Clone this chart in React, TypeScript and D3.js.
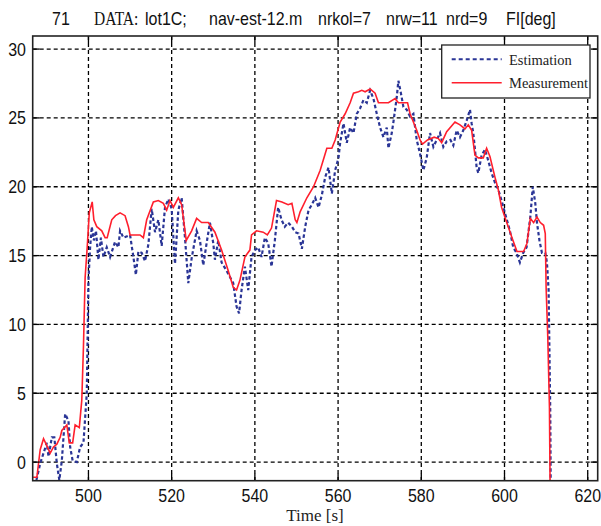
import React from "react";
import * as d3 from "d3";

// Measurement (red) - time [s] and angle [deg]
const measTime = [
  486.7, 487.6, 488.4, 489.2, 490.0, 490.8, 491.6, 492.4, 493.2, 493.6, 494.8, 495.4, 496.2, 496.8, 497.8, 498.4,
  498.8, 499.2, 499.7, 500.2, 500.9, 501.3, 502.0, 503.2, 504.0, 504.5, 505.6, 506.5, 507.6, 508.8, 509.6, 510.0,
  511.6, 512.4, 513.2, 514.0, 515.6, 516.8, 518.0, 518.8, 519.6, 520.4, 521.6, 522.4, 523.5, 524.8, 526.0, 527.2,
  528.8, 530.4, 532.0, 533.6, 534.8, 535.6, 536.4, 537.6, 538.8, 539.2, 540.4, 542.0, 543.0, 544.0, 545.2, 546.5,
  548.0, 548.9, 549.7, 550.1, 550.9, 552.5, 554.1, 555.7, 556.9, 557.3, 558.5, 559.3, 560.5, 561.7, 562.9, 563.7,
  564.9, 565.7, 566.5, 567.7, 568.9, 569.7, 570.9, 572.1, 573.7, 574.5, 576.7, 577.3, 578.1, 578.9, 579.7, 580.3,
  581.5, 583.1, 584.1, 584.9, 586.1, 588.1, 589.3, 590.5, 591.3, 592.1, 592.9, 593.7, 594.9, 595.7, 596.5, 597.7,
  598.5, 599.3, 600.2, 601.0, 601.8, 603.0, 604.6, 605.4, 606.2, 607.0, 607.8, 608.6, 609.4, 609.8, 610.0, 610.4,
  610.8, 610.95,
];
const measValue = [
  -1.1, -1.1, 0.9, 1.7, 1.2, 0.65, 1.1, 1.3, 1.8, 2.3, 2.7, 1.4, 1.4, 2.7, 2.5, 4.5,
  8.4, 13.4, 15.6, 18.1, 18.9, 17.6, 17.1, 16.8, 16.3, 16.3, 17.6, 17.9, 18.1, 17.9, 17.1, 16.5,
  16.5, 16.5, 16.3, 17.6, 18.9, 19.0, 18.8, 18.3, 19.0, 18.5, 19.2, 18.7, 16.1, 16.8, 17.7, 17.4,
  17.4, 16.7, 15.4, 13.9, 12.7, 12.5, 13.2, 14.9, 15.4, 16.5, 16.8, 16.7, 16.5, 17.0, 19.0, 18.9,
  18.7, 18.8, 17.6, 17.4, 18.2, 19.2, 20.0, 21.2, 22.4, 22.8, 22.8, 23.4, 24.7, 25.3, 26.1, 26.8,
  26.9, 27.0, 26.9, 27.1, 26.8, 26.1, 26.1, 26.1, 26.4, 26.1, 26.1, 25.3, 24.7, 24.1, 23.4, 23.1,
  23.4, 23.6, 23.5, 23.2, 24.0, 24.7, 24.5, 24.2, 24.5, 24.1, 22.3, 22.1, 22.1, 22.8, 22.2, 20.7,
  19.8, 18.5, 17.7, 17.0, 16.3, 15.3, 15.3, 15.9, 17.7, 17.4, 17.8, 17.4, 17.2, 16.6, 12.7, 9.1,
  4.0, -1.4,
];

// Estimation (blue dashed)
const estTime = [
  487.5, 488.4, 489.2, 490.0, 490.4, 491.2, 491.8, 492.4, 493.0, 493.6, 494.4, 495.2, 495.6, 496.2, 497.2, 498.0,
  498.8, 499.6, 500.0, 500.4, 500.8, 501.3, 501.8, 502.4, 503.0, 503.6, 504.4, 505.2, 506.4, 507.2, 507.6, 508.4,
  510.0, 510.8, 511.4, 512.0, 512.8, 513.6, 514.4, 515.2, 516.0, 516.8, 517.6, 518.4, 519.2, 520.0, 520.8, 521.6,
  522.4, 523.2, 524.0, 524.8, 526.0, 526.8, 527.6, 528.4, 529.2, 530.0, 530.4, 531.2, 532.0, 533.2, 534.8, 535.6,
  536.2, 536.8, 537.6, 538.4, 539.2, 540.0, 540.8, 541.6, 542.4, 543.2, 544.0, 544.8, 545.6, 546.4, 547.2, 548.0,
  548.9, 549.7, 550.5, 551.3, 552.1, 552.9, 553.7, 554.5, 555.3, 556.1, 556.9, 557.7, 558.5, 559.3, 560.1, 560.5,
  561.3, 562.1, 562.9, 563.7, 564.5, 565.3, 566.1, 566.9, 567.7, 568.5, 569.3, 570.1, 570.9, 571.7, 572.1, 572.9,
  573.3, 574.1, 574.5, 575.1, 575.7, 576.5, 577.3, 578.1, 578.9, 579.7, 580.5, 581.3, 582.1, 582.9, 583.7, 584.5,
  585.3, 586.1, 587.0, 587.7, 588.5, 589.3, 590.1, 590.9, 591.7, 592.1, 592.5, 592.9, 593.3, 593.7, 594.5, 595.3,
  596.1, 596.9, 597.7, 598.5, 599.3, 600.1, 601.3, 602.1, 602.9, 603.7, 604.5, 605.3, 606.2, 606.8, 607.4, 607.8,
  608.4, 609.0, 609.8, 610.2, 610.6, 611.0, 611.1,
];
const estValue = [
  -1.3, -0.1, 0.65, 1.4, 0.4, 1.8, 1.8, -0.1, -1.3, 0.1, 3.5, 3.0, 1.1, 0.1, 0.0, 1.1,
  1.4, 5.0, 13.2, 15.6, 17.1, 16.1, 16.8, 14.7, 16.3, 14.9, 15.6, 14.9, 16.0, 15.6, 16.8, 16.3,
  16.5, 14.9, 13.6, 15.3, 15.2, 14.6, 15.8, 18.4, 16.7, 17.6, 15.7, 18.5, 19.1, 18.4, 14.4, 18.3,
  19.2, 16.3, 13.0, 14.8, 16.8, 16.1, 14.3, 15.9, 17.4, 15.9, 14.7, 16.1, 14.5, 13.9, 13.0, 11.3,
  10.8, 12.5, 14.2, 12.5, 14.9, 15.4, 15.6, 14.9, 16.3, 15.9, 14.2, 16.1, 18.5, 17.6, 17.1, 17.4,
  17.1, 16.7, 16.6, 15.5, 17.1, 18.3, 18.7, 19.2, 18.5, 19.4, 20.7, 21.4, 19.5, 21.2, 22.1, 23.2,
  24.6, 23.2, 24.3, 23.9, 25.3, 25.7, 26.3, 26.1, 27.0, 26.4, 25.3, 24.3, 23.6, 24.3, 22.8, 23.9,
  24.7, 26.5, 27.7, 26.8, 25.8, 25.6, 25.1, 25.3, 23.4, 22.4, 21.2, 22.1, 23.9, 22.9, 23.4, 23.9,
  22.9, 23.3, 23.4, 23.0, 24.1, 23.6, 24.1, 24.8, 25.6, 24.6, 23.9, 22.7, 21.4, 21.0, 22.3, 22.7,
  21.9, 21.0, 20.3, 19.8, 19.0, 18.1, 16.8, 15.6, 15.2, 14.5, 15.2, 15.6, 17.8, 20.0, 18.8, 17.4,
  16.1, 15.2, 15.2, 14.5, 12.5, 3.6, -1.4,
];

const xTicks = [500, 520, 540, 560, 580, 600, 620];
const yTicks = [0, 5, 10, 15, 20, 25, 30];

const SANS = "'Liberation Sans', Arial, sans-serif";
const SERIF = "'Liberation Serif', 'Times New Roman', serif";

// text a little taller than wide, like the scanned figure
function Tall(props: { x: number; y: number; sy?: number; children: React.ReactNode; [k: string]: any }) {
  const { x, y, sy = 1.12, children, ...rest } = props;
  return (
    <g transform={`translate(${x},${y}) scale(1,${sy})`}>
      <text x={0} y={0} {...rest}>{children}</text>
    </g>
  );
}

export default function App() {
  const width = 601;
  const height = 526;
  const left = 32.7;
  const right = 597.7;
  const top = 36;
  const bottom = 480.7;

  const x = d3.scaleLinear().domain([486.6, 622.4]).range([left, right]);
  const y = d3.scaleLinear().domain([-1.35, 30.95]).range([bottom, top]);

  const meas = measTime.map((t, i) => [t, measValue[i]] as [number, number]);
  const est = estTime.map((t, i) => [t, estValue[i]] as [number, number]);
  const line = d3.line<[number, number]>().x((d) => x(d[0])).y((d) => y(d[1]));

  const tick = 7;

  return (
    <svg width={width} height={height} style={{ position: "absolute", left: 0, top: 0, background: "#fff" }}>
      <defs>
        <clipPath id="plot">
          <rect x={left} y={top} width={right - left} height={bottom - top} />
        </clipPath>
      </defs>

      {/* title */}
      <g transform="translate(0,25) scale(1,1.15)">
        <text y={0} fontSize={16} fill="#111" fontFamily={SANS}>
          <tspan x={52}>71</tspan>
          <tspan x={94} fontFamily={SERIF} fontSize={15.5}>DATA:</tspan>
          <tspan x={145}>lot1C;</tspan>
          <tspan x={209}>nav-est-12.m</tspan>
          <tspan x={318}>nrkol=7</tspan>
          <tspan x={386}>nrw=11</tspan>
          <tspan x={446}>nrd=9</tspan>
          <tspan x={506}>FI[deg]</tspan>
        </text>
      </g>

      {/* grid */}
      {xTicks.map((t) => (
        <line key={"gx" + t} x1={x(t)} x2={x(t)} y1={top} y2={bottom} stroke="#000" strokeWidth={1.3} strokeDasharray="4,3" />
      ))}
      {yTicks.map((t) => (
        <line key={"gy" + t} x1={left} x2={right} y1={y(t)} y2={y(t)} stroke="#000" strokeWidth={1.3} strokeDasharray="4,3" />
      ))}

      {/* series */}
      <g clipPath="url(#plot)">
        <path d={line(est) ?? ""} fill="none" stroke="#2a3596" strokeWidth={2.2} strokeDasharray="3.5,2.5" />
        <path d={line(meas) ?? ""} fill="none" stroke="#ff1f2d" strokeWidth={1.6} />
      </g>

      {/* ticks */}
      {xTicks.map((t) => (
        <g key={"tx" + t}>
          <line x1={x(t)} x2={x(t)} y1={bottom} y2={bottom - tick} stroke="#000" strokeWidth={1.3} />
          <line x1={x(t)} x2={x(t)} y1={top} y2={top + tick} stroke="#000" strokeWidth={1.3} />
          <Tall x={x(t)} y={501.5} textAnchor="middle" fontSize={16} fontFamily={SANS} fill="#111">{t}</Tall>
        </g>
      ))}
      {yTicks.map((t) => (
        <g key={"ty" + t}>
          <line x1={left} x2={left + tick} y1={y(t)} y2={y(t)} stroke="#000" strokeWidth={1.3} />
          <line x1={right} x2={right - tick} y1={y(t)} y2={y(t)} stroke="#000" strokeWidth={1.3} />
          <Tall x={26} y={y(t) + 6.5} textAnchor="end" fontSize={16} fontFamily={SANS} fill="#111">{t}</Tall>
        </g>
      ))}

      {/* frame */}
      <rect x={left} y={top} width={right - left} height={bottom - top} fill="none" stroke="#222" strokeWidth={1.6} />

      {/* legend */}
      <rect x={441.7} y={45} width={148.3} height={53} fill="#fff" stroke="#222" strokeWidth={1.3} />
      <line x1={451.7} x2={501.7} y1={59.3} y2={59.3} stroke="#2a3596" strokeWidth={2} strokeDasharray="4,3" />
      <text x={509} y={64.5} fontSize={14.5} fontFamily={SERIF} fill="#222">Estimation</text>
      <line x1={451.7} x2={501.7} y1={82.7} y2={82.7} stroke="#ff1f2d" strokeWidth={1.6} />
      <text x={509} y={88} fontSize={14.5} fontFamily={SERIF} fill="#222">Measurement</text>

      {/* x label */}
      <text x={315} y={521} textAnchor="middle" fontSize={17} fontFamily={SERIF} fill="#222">Time [s]</text>
    </svg>
  );
}
